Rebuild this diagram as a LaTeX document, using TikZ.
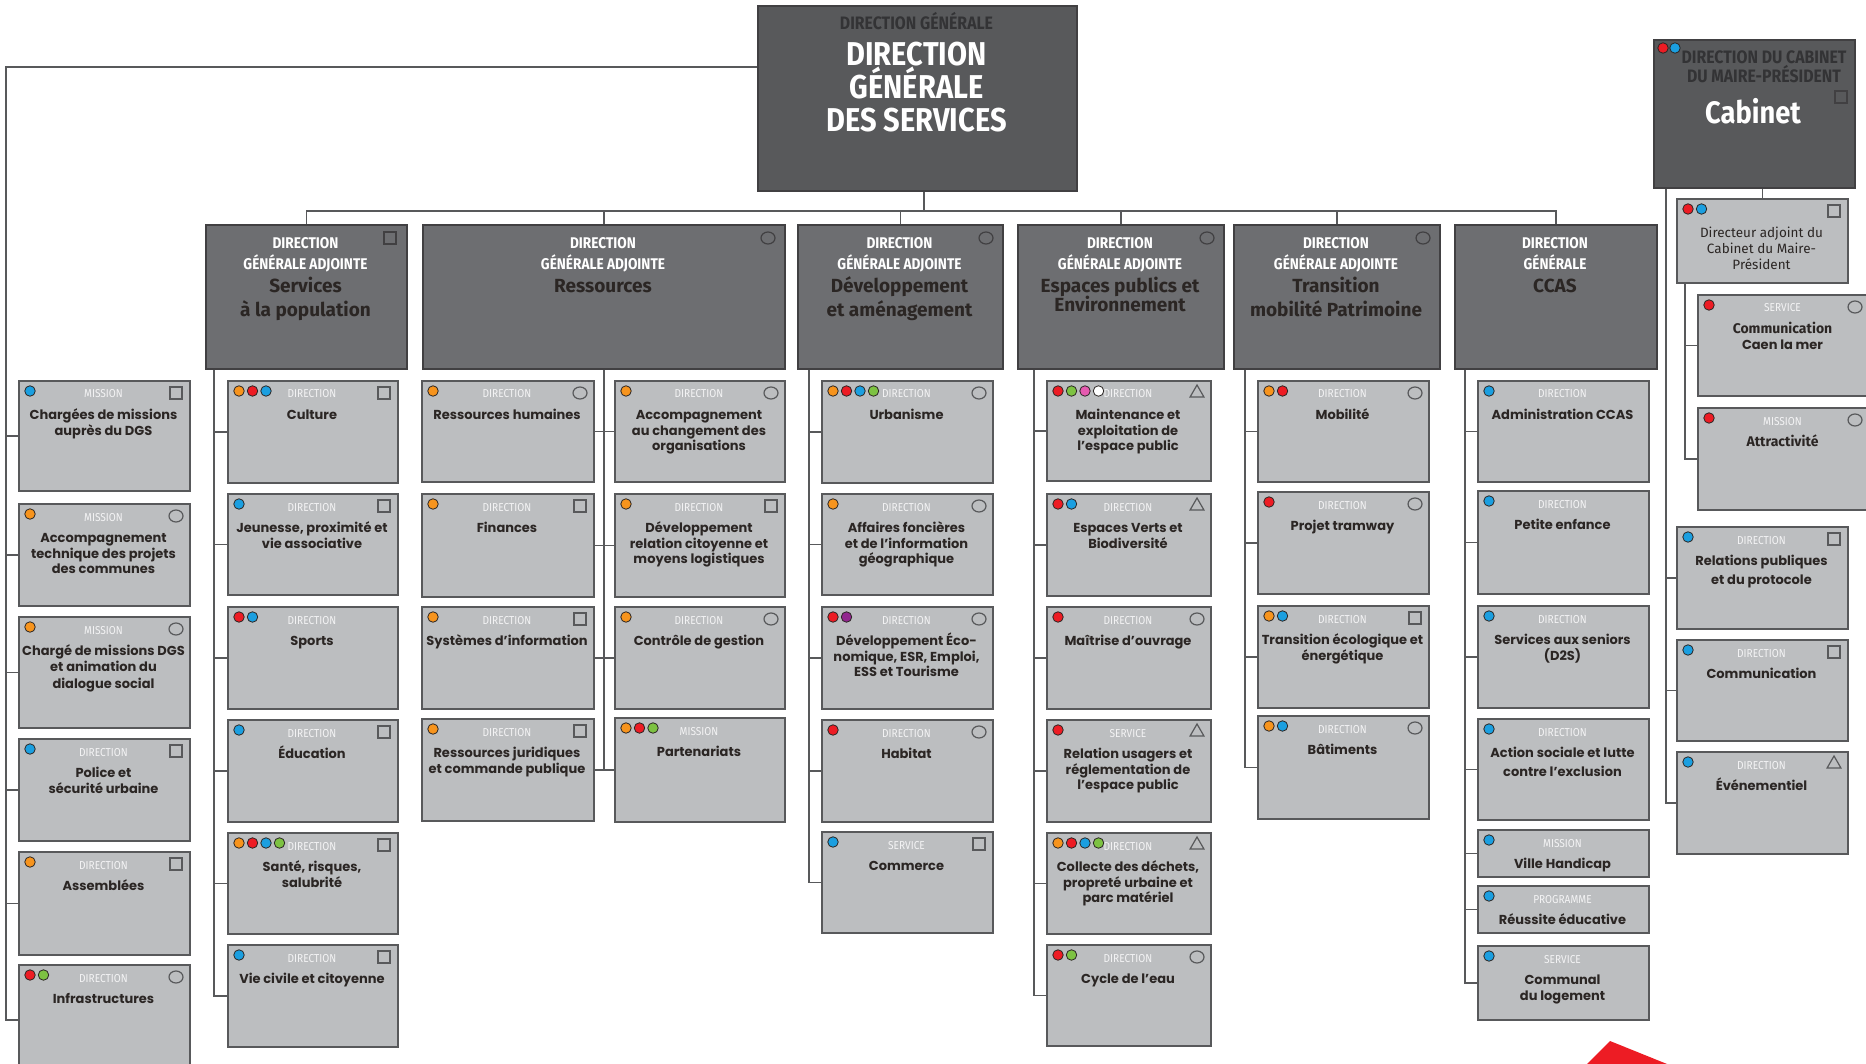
\documentclass[tikz,border=0pt]{standalone}
\usepackage{fontspec}
\usetikzlibrary{calc,shapes.geometric}
\setmainfont{Fira Sans}
\newfontfamily\headfont[FakeStretch=0.88]{Fira Sans}
\newfontfamily\namefont{Poppins}
\newfontfamily\dgafont{Fira Sans}

\definecolor{boxgray}{HTML}{BCBEC0}
\definecolor{dgagray}{HTML}{6D6E71}
\definecolor{dggray}{HTML}{58595B}
\definecolor{edge}{HTML}{58595B}
\definecolor{dgaline}{HTML}{414042}
\definecolor{ink}{HTML}{2B2624}
\definecolor{dgtext}{HTML}{333335}
\definecolor{labwhite}{HTML}{F4F4F5}
\definecolor{cor}{HTML}{F7941D}
\definecolor{cre}{HTML}{ED1C24}
\definecolor{cbl}{HTML}{1B9FE0}
\definecolor{cgr}{HTML}{7DC242}
\definecolor{cpu}{HTML}{92278F}
\definecolor{cpk}{HTML}{E55AB0}
\definecolor{cwh}{HTML}{FFFFFF}

\newcommand{\cabname}{\dgafont\bfseries\fontsize{14}{20}\selectfont}

\newcommand{\orgbox}[9]{%
  \node[childbox, minimum width=#4, minimum height=#5] (#1) at (#2,#3) {};
  \node[typelab] (#1-l) at ({#2+#4/2},{#3+18}) {#6};
  \node[childtxt] (#1-t) at ({#2+#4/2},{#3+26.4}) {\rule{0pt}{13pt}#7};
  \foreach \col [count=\k] in {#8} {\node[colordot, fill=\col] (#1-d\k) at ({#2+12+13.5*(\k-1)},{#3+11}) {};}
  \def\tmpico{#9}\def\noico{no}\ifx\tmpico\noico\else\node[ico#9] (#1-i) at ({#2+#4-13},{#3+13}) {};\fi
}

\newcommand{\dgabox}[6]{%
  \node[dgarect, minimum width=#3] (#1) at (#2,224) {};
  \node[dgahead] (#1-h) at ({#2+#3/2},232) {\rule{0pt}{16pt}#4};
  \node[dganame] (#1-n) at ({#2+#3/2},273.5) {\rule{0pt}{19pt}#5};
  \def\tmpico{#6}\def\noico{no}\ifx\tmpico\noico\else\node[ico#6, draw=dgaline] (#1-i) at ({#2+#3-16},238) {};\fi
}

\begin{document}
\begin{tikzpicture}[x=1pt, y=-1pt,
  childbox/.style={draw=edge, line width=1.6pt, fill=boxgray, anchor=north west, inner sep=0pt},
  dgarect/.style={draw=dgaline, line width=1.6pt, fill=dgagray, anchor=north west, inner sep=0pt, minimum height=144},
  dgrect/.style={draw=dgaline, line width=1.6pt, fill=dggray, anchor=north west, inner sep=0pt},
  typelab/.style={anchor=base, inner sep=0pt, text=labwhite, font=\headfont\fontsize{11.5}{12}\selectfont},
  childtxt/.style={anchor=north, inner sep=0pt, align=center, text=ink, font=\namefont\bfseries\fontsize{13}{15.5}\selectfont},
  dgahead/.style={anchor=north, inner sep=0pt, align=center, text=white, font=\headfont\bfseries\fontsize{15.5}{21}\selectfont},
  dganame/.style={anchor=north, inner sep=0pt, align=center, text=ink, font=\dgafont\bfseries\fontsize{19}{24}\selectfont},
  colordot/.style={circle, draw=ink, line width=0.8pt, minimum size=10.5pt, inner sep=0pt},
  icosq/.style={draw=edge, line width=1.2pt, minimum size=12pt, inner sep=0pt},
  icoci/.style={ellipse, draw=edge, line width=1.2pt, minimum width=14pt, minimum height=12pt, inner sep=0pt},
  icotr/.style={regular polygon, regular polygon sides=3, draw=edge, line width=1.2pt, minimum size=16pt, inner sep=0pt},
  link/.style={draw=edge, line width=1.4pt}]

\useasboundingbox (0,0) rectangle (1866,1064);
\fill[white] (0,0) rectangle (1866,1064);
\clip (0,0) rectangle (1866,1064);

% direction generale
\node[dgrect, minimum width=319, minimum height=185] (dg) at (757,5) {};
\node[anchor=base, inner sep=0pt, text=dgtext, font=\headfont\bfseries\fontsize{18}{20}\selectfont] (dg-h) at (916.5,30) {DIRECTION GÉNÉRALE};
\node[anchor=north, inner sep=0pt, align=center, text=white, font=\headfont\bfseries\fontsize{33}{33}\selectfont] (dg-n) at (916.5,35) {\rule{0pt}{30pt}DIRECTION\\GÉNÉRALE\\DES SERVICES};

% cabinet
\node[dgrect, minimum width=201, minimum height=148] (cab) at (1653,39) {};
\node[colordot, fill=cre] (cab-d1) at (1663,48) {};
\node[colordot, fill=cbl] (cab-d2) at (1675,48) {};
\node[anchor=north, inner sep=0pt, align=center, text=dgtext, font=\headfont\bfseries\fontsize{18}{19}\selectfont] (cab-h) at (1764,46.5) {\rule{0pt}{17pt}DIRECTION DU CABINET\\DU MAIRE-PRÉSIDENT};
\node[icosq, draw=dgaline] (cab-i) at (1841,97) {};
\node[anchor=base, inner sep=0pt, text=white, font=\headfont\bfseries\fontsize{31}{33}\selectfont] (cab-n) at (1753,124) {Cabinet};

% directions generales adjointes
\dgabox{pop}{205}{201}{DIRECTION\\GÉNÉRALE ADJOINTE}{Services\\à la population}{sq}
\dgabox{res}{422}{362}{DIRECTION\\GÉNÉRALE ADJOINTE}{Ressources}{ci}
\dgabox{dev}{797}{205}{DIRECTION\\GÉNÉRALE ADJOINTE}{Développement\\et aménagement}{ci}
\dgabox{esp}{1017}{206}{DIRECTION\\GÉNÉRALE ADJOINTE}{Espaces publics et\\[-5pt]Environnement}{ci}
\dgabox{tra}{1233}{206}{DIRECTION\\GÉNÉRALE ADJOINTE}{Transition\\mobilité Patrimoine}{ci}
\dgabox{ccas}{1454}{202}{DIRECTION\\GÉNÉRALE}{CCAS}{no}

% missions DGS
\orgbox{m1}{18}{380}{171}{110}{MISSION}{Chargées de missions\\auprès du DGS}{cbl}{sq}
\orgbox{m2}{18}{503}{171}{102}{MISSION}{Accompagnement\\technique des projets\\des communes}{cor}{ci}
\orgbox{m3}{18}{616}{171}{111}{MISSION}{Chargé de missions DGS\\et animation du\\[2pt]dialogue social}{cor}{ci}
\orgbox{m4}{18}{738}{171}{102}{DIRECTION}{Police et\\sécurité urbaine}{cbl}{sq}
\orgbox{m5}{18}{851}{171}{103}{DIRECTION}{Assemblées}{cor}{sq}
\orgbox{m6}{18}{964}{171}{110}{DIRECTION}{Infrastructures}{cre,cgr}{ci}

% services a la population
\orgbox{s1}{227}{380}{170}{102}{DIRECTION}{Culture}{cor,cre,cbl}{sq}
\orgbox{s2}{227}{493}{170}{101}{DIRECTION}{Jeunesse, proximité et\\vie associative}{cbl}{sq}
\orgbox{s3}{227}{606}{170}{102}{DIRECTION}{Sports}{cre,cbl}{no}
\orgbox{s4}{227}{719}{170}{102}{DIRECTION}{Éducation}{cbl}{sq}
\orgbox{s5}{227}{832}{170}{101}{DIRECTION}{Santé, risques,\\salubrité}{cor,cre,cbl,cgr}{sq}
\orgbox{s6}{227}{944}{170}{102}{DIRECTION}{Vie civile et citoyenne}{cbl}{sq}

% ressources
\orgbox{r1}{421}{380}{172}{101}{DIRECTION}{Ressources humaines}{cor}{ci}
\orgbox{r2}{421}{493}{172}{103}{DIRECTION}{Finances}{cor}{sq}
\orgbox{r3}{421}{606}{172}{102}{DIRECTION}{Systèmes d’information}{cor}{sq}
\orgbox{r4}{421}{718}{172}{102}{DIRECTION}{Ressources juridiques\\et commande publique}{cor}{sq}
\orgbox{r5}{614}{380}{170}{101}{DIRECTION}{Accompagnement\\au changement des\\organisations}{cor}{ci}
\orgbox{r6}{614}{493}{170}{103}{DIRECTION}{Développement\\relation citoyenne et\\moyens logistiques}{cor}{sq}
\orgbox{r7}{614}{606}{170}{102}{DIRECTION}{Contrôle de gestion}{cor}{ci}
\orgbox{r8}{614}{717}{170}{104}{MISSION}{Partenariats}{cor,cre,cgr}{no}

% developpement
\orgbox{d1}{821}{380}{171}{102}{DIRECTION}{Urbanisme}{cor,cre,cbl,cgr}{ci}
\orgbox{d2}{821}{493}{171}{101}{DIRECTION}{Affaires foncières\\et de l’information\\géographique}{cor}{ci}
\orgbox{d3}{821}{606}{171}{102}{DIRECTION}{Développement Éco-\\nomique, ESR, Emploi,\\ESS et Tourisme}{cre,cpu}{ci}
\orgbox{d4}{821}{719}{171}{102}{DIRECTION}{Habitat}{cre}{ci}
\orgbox{d5}{821}{831}{171}{101}{SERVICE}{Commerce}{cbl}{sq}

% espaces publics
\orgbox{e1}{1046}{380}{164}{100}{DIRECTION}{Maintenance et\\exploitation de\\l’espace public}{cre,cgr,cpk,cwh}{tr}
\orgbox{e2}{1046}{493}{164}{102}{DIRECTION}{Espaces Verts et\\Biodiversité}{cre,cbl}{tr}
\orgbox{e3}{1046}{606}{164}{102}{DIRECTION}{Maîtrise d’ouvrage}{cre}{ci}
\orgbox{e4}{1046}{719}{164}{102}{SERVICE}{Relation usagers et\\réglementation de\\l’espace public}{cre}{tr}
\orgbox{e5}{1046}{832}{164}{101}{DIRECTION}{Collecte des déchets,\\propreté urbaine et\\parc matériel}{cor,cre,cbl,cgr}{tr}
\orgbox{e6}{1046}{944}{164}{101}{DIRECTION}{Cycle de l’eau}{cre,cgr}{ci}

% transition
\orgbox{t1}{1257}{380}{171}{101}{DIRECTION}{Mobilité}{cor,cre}{ci}
\orgbox{t2}{1257}{491}{171}{102}{DIRECTION}{Projet tramway}{cre}{ci}
\orgbox{t3}{1257}{605}{171}{102}{DIRECTION}{Transition écologique et\\énergétique}{cor,cbl}{sq}
\orgbox{t4}{1257}{715}{171}{103}{DIRECTION}{Bâtiments}{cor,cbl}{ci}

% ccas
\orgbox{a1}{1477}{380}{171}{101}{DIRECTION}{Administration CCAS}{cbl}{no}
\orgbox{a2}{1477}{490}{171}{103}{DIRECTION}{Petite enfance}{cbl}{no}
\orgbox{a3}{1477}{605}{171}{102}{DIRECTION}{Services aux seniors\\(D2S)}{cbl}{no}
\orgbox{a4}{1477}{718}{171}{101}{DIRECTION}{Action sociale et lutte\\[3pt]contre l’exclusion}{cbl}{no}
\orgbox{a5}{1477}{829}{171}{47}{MISSION}{Ville Handicap}{cbl}{no}
\orgbox{a6}{1477}{885}{171}{47}{PROGRAMME}{Réussite éducative}{cbl}{no}
\orgbox{a7}{1477}{945}{171}{74}{SERVICE}{Communal\\du logement}{cbl}{no}

% cabinet
\node[childbox, minimum width=171, minimum height=84] (adj) at (1676,198) {};
\node[colordot, fill=cre] (adj-d1) at (1688,209) {};
\node[colordot, fill=cbl] (adj-d2) at (1701.5,209) {};
\node[icosq] (adj-i) at (1834,211) {};
\node[anchor=north, inner sep=0pt, align=center, text=ink, font=\dgafont\fontsize{13.5}{16}\selectfont] (adj-t) at (1761.5,223) {\rule{0pt}{14pt}Directeur adjoint du\\Cabinet du Maire-\\Président};
\orgbox{k1}{1697}{294}{171}{101}{SERVICE}{\cabname Communication\\Caen la mer}{cre}{ci}
\orgbox{k2}{1697}{407}{171}{102}{MISSION}{\cabname Attractivité}{cre}{ci}
\orgbox{k3}{1676}{526}{171}{102}{DIRECTION}{Relations publiques\\[3pt]et du protocole}{cbl}{sq}
\orgbox{k4}{1676}{639}{171}{101}{DIRECTION}{Communication}{cbl}{sq}
\orgbox{k5}{1676}{751}{171}{102}{DIRECTION}{Événementiel}{cbl}{tr}

% liens
\coordinate (lsp) at (6,67);
\coordinate (bus) at (0,211);
\draw[link] (dg.west |- lsp) -- (lsp) |- (m6.west);
\foreach \b in {m1,m2,m3,m4,m5} \draw[link] (lsp) |- (\b.west);
\draw[link] ([xshift=6.5pt]dg.south) -- ([xshift=6.5pt]dg.south |- bus);
\draw[link] (pop.north) |- (bus -| ccas.north) -- (ccas.north);
\foreach \g in {res,dev,esp,tra} \draw[link] (\g.north) -- (\g.north |- bus);
\foreach \b in {s1,s2,s3,s4,s5,s6} \draw[link] ([xshift=9pt]pop.south west) |- (\b.west);
\foreach \b in {r1,r2,r3,r4} \draw[link] (res.south) |- (\b.east);
\foreach \b in {r5,r6,r7,r8} \draw[link] (res.south) |- (\b.west);
\foreach \b in {d1,d2,d3,d4,d5} \draw[link] ([xshift=12pt]dev.south west) |- (\b.west);
\foreach \b in {e1,e2,e3,e4,e5,e6} \draw[link] ([xshift=17pt]esp.south west) |- (\b.west);
\foreach \b in {t1,t2,t3,t4} \draw[link] ([xshift=12pt]tra.south west) |- (\b.west);
\foreach \b in {a1,a2,a3,a4,a5,a6,a7} \draw[link] ([xshift=11pt]ccas.south west) |- (\b.west);
\draw[link] (adj.north |- cab.south) -- (adj.north);
\foreach \b in {k1,k2} \draw[link] ([xshift=9pt]adj.south west) |- (\b.west);
\foreach \b in {k3,k4,k5} \draw[link] ([xshift=13pt]cab.south west) |- (\b.west);

\fill[cre] (1587,1064) -- (1610,1041) -- (1667,1064) -- cycle;
\end{tikzpicture}
\end{document}
